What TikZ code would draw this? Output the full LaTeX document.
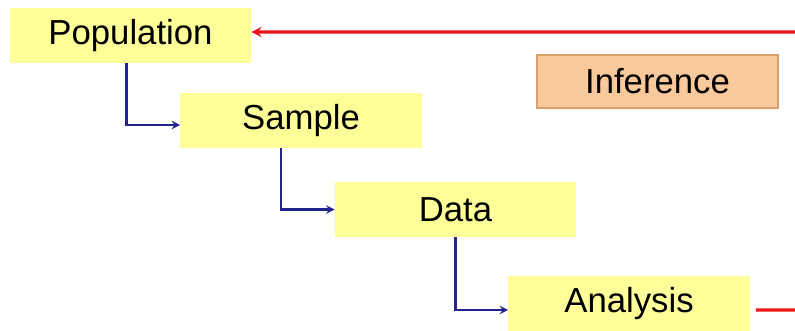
\documentclass[tikz,border=0pt]{standalone}
\usepackage{fontspec}
\setmainfont{Liberation Sans}
\usepackage{xcolor}
\usepackage{tikz}
\usetikzlibrary{arrows, positioning}
\definecolor{stageyellow}{RGB}{255,255,153}
\definecolor{inferorange}{RGB}{250,201,155}
\definecolor{inferedge}{RGB}{215,160,110}
\definecolor{flowblue}{RGB}{35,35,140}
\definecolor{backred}{RGB}{235,20,20}
\tikzstyle{stage} = [rectangle, minimum width=6.025cm, minimum height=1.375cm, inner sep=0pt, text centered, fill=stageyellow, font=\fontsize{24.7}{30}\selectfont]
\tikzstyle{result} = [stage, minimum height=1.325cm, fill=inferorange, draw=inferedge, line width=0.8pt]
\tikzstyle{flow} = [line width=1.7pt, draw=flowblue, ->, >=stealth]
\tikzstyle{back} = [line width=2.2pt, draw=backred, ->, >=stealth]

\begin{document}
\begin{tikzpicture}[x=0.025cm, y=-0.025cm]
\useasboundingbox (0,0) rectangle (795,330);

% Nodes
\node (population) [stage] at (130.5,35.5) {Population};
\node (sample) [stage] at (301,120.5) {Sample};
\node (data) [stage] at (455.5,209.5) {Data};
\node (analysis) [stage] at (629,304) {Analysis};
\node (inference) [result] at (657.5,81.5) {Inference};

% Corner of the loop back (off the right edge)
\coordinate (lowturn) at (800,310);
\coordinate (highturn) at (800,32);

% Arrows
\draw [flow] ([xshift=-0.1cm]population.south) |- ([yshift=-0.1125cm]sample.west);
\draw [flow] ([xshift=-0.5cm]sample.south) |- (data.west);
\draw [flow] (data.south) |- ([yshift=-0.15cm]analysis.west);
\draw [back] ([xshift=0.15cm, yshift=-0.15cm]analysis.east) -- (lowturn) -- (highturn) -- ([yshift=0.0875cm]population.east);

\end{tikzpicture}
\end{document}
